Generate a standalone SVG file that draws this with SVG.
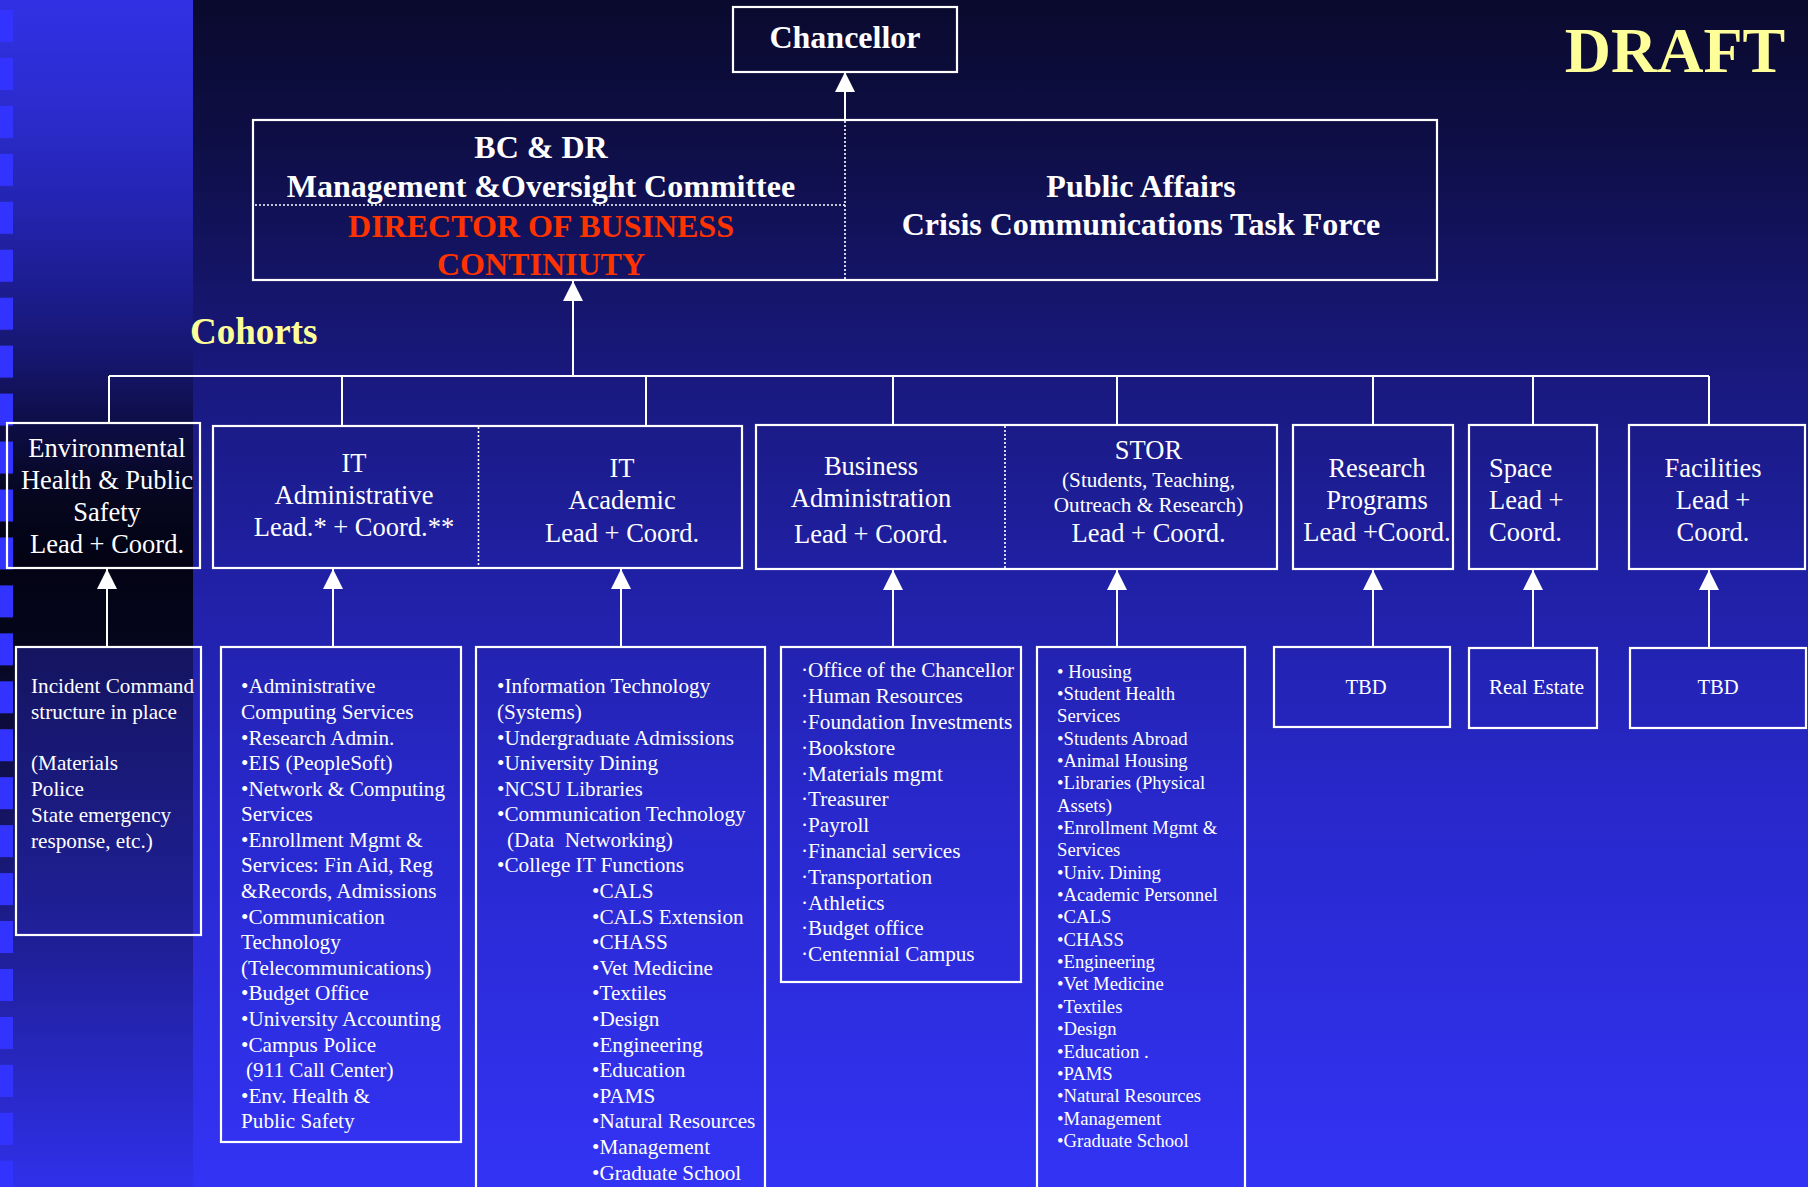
<svg xmlns="http://www.w3.org/2000/svg" width="1808" height="1187" viewBox="0 0 1808 1187">
<defs>
<linearGradient id="bg" x1="0" y1="0" x2="0" y2="1187" gradientUnits="userSpaceOnUse">
<stop offset="0" stop-color="#0a0a2e"/>
<stop offset="0.12" stop-color="#0e0e46"/>
<stop offset="0.3" stop-color="#18187a"/>
<stop offset="0.48" stop-color="#2020a4"/>
<stop offset="0.68" stop-color="#2828cc"/>
<stop offset="1" stop-color="#3333f5"/>
</linearGradient>
<linearGradient id="panel" x1="0" y1="0" x2="0" y2="1187" gradientUnits="userSpaceOnUse">
<stop offset="0" stop-color="#3131e4"/>
<stop offset="0.085" stop-color="#2c2cd0"/>
<stop offset="0.17" stop-color="#2424b2"/>
<stop offset="0.25" stop-color="#1c1c8c"/>
<stop offset="0.30" stop-color="#161670"/>
<stop offset="0.36" stop-color="#0d0d44"/>
<stop offset="0.42" stop-color="#06061f"/>
<stop offset="0.47" stop-color="#030314"/>
<stop offset="0.545" stop-color="#06061c"/>
<stop offset="0.79" stop-color="#1e1e94"/>
<stop offset="1" stop-color="#3030ea"/>
</linearGradient>
<linearGradient id="incfill" x1="0" y1="647" x2="0" y2="935" gradientUnits="userSpaceOnUse">
<stop offset="0" stop-color="#141460"/>
<stop offset="1" stop-color="#20209a"/>
</linearGradient>
<pattern id="sq" patternUnits="userSpaceOnUse" x="0" y="10" width="13" height="47.95">
<rect x="0" y="0" width="13" height="32" fill="#3333ff"/>
</pattern>
<marker id="arr" markerUnits="userSpaceOnUse" markerWidth="20" markerHeight="20" viewBox="0 0 20 20" refX="20" refY="10" orient="auto">
<path d="M0,0 L20,10 L0,20 z" fill="#ffffff"/>
</marker>
<style>
.box{fill:none;stroke:#ffffff;stroke-width:2.2}
.dot{fill:none;stroke:#ffffff;stroke-width:1.6;stroke-dasharray:2 2}
.con{fill:none;stroke:#ffffff;stroke-width:2}
.arrow{marker-end:url(#arr)}
text{font-family:"Liberation Serif","Times New Roman",serif;fill:#ffffff}
.b{font-weight:bold;font-size:32px}
.red{fill:#ff3300}
.yel{fill:#ffff99}
.n{font-size:26.5px}
.m{font-size:21.2px}
.s{font-size:18.7px}
.c{text-anchor:middle}
</style>
</defs>

<rect x="0" y="0" width="1808" height="1187" fill="url(#bg)"/>
<rect x="0" y="0" width="193" height="1187" fill="url(#panel)"/>
<rect x="17" y="648" width="176" height="286" fill="url(#incfill)"/>
<rect x="0" y="0" width="13" height="1187" fill="url(#sq)"/>

<text class="b yel" x="1675" y="72" style="font-size:64px" text-anchor="middle">DRAFT</text>
<text class="b yel" x="190" y="344" style="font-size:37px">Cohorts</text>

<g id="connectors">
<line class="con arrow" x1="845" y1="120" x2="845" y2="72"/>
<line class="con arrow" x1="573" y1="376" x2="573" y2="281"/>
<line class="con" x1="109" y1="376" x2="1709" y2="376"/>
<line class="con" x1="109" y1="376" x2="109" y2="423"/>
<line class="con" x1="342" y1="376" x2="342" y2="426"/>
<line class="con" x1="646" y1="376" x2="646" y2="426"/>
<line class="con" x1="893" y1="376" x2="893" y2="425"/>
<line class="con" x1="1117" y1="376" x2="1117" y2="425"/>
<line class="con" x1="1373" y1="376" x2="1373" y2="425"/>
<line class="con" x1="1533" y1="376" x2="1533" y2="425"/>
<line class="con" x1="1709" y1="376" x2="1709" y2="425"/>
<line class="con arrow" x1="107" y1="647" x2="107" y2="569"/>
<line class="con arrow" x1="333" y1="647" x2="333" y2="569"/>
<line class="con arrow" x1="621" y1="647" x2="621" y2="569"/>
<line class="con arrow" x1="893" y1="647" x2="893" y2="570"/>
<line class="con arrow" x1="1117" y1="647" x2="1117" y2="570"/>
<line class="con arrow" x1="1373" y1="648" x2="1373" y2="570"/>
<line class="con arrow" x1="1533" y1="648" x2="1533" y2="570"/>
<line class="con arrow" x1="1709" y1="648" x2="1709" y2="570"/>
</g>

<g id="chancellor">
<rect class="box" x="733" y="7" width="224" height="65"/>
<text class="b c" x="845" y="48">Chancellor</text>
</g>

<g id="bcdr-committee">
<rect class="box" x="253" y="120" width="1184" height="160"/>
<line class="dot" x1="845" y1="121" x2="845" y2="279"/>
<line class="dot" x1="255" y1="205" x2="845" y2="205"/>
<text class="b c" x="541" y="158">BC &amp; DR</text>
<text class="b c" x="541" y="197">Management &amp;Oversight Committee</text>
<text class="b c red" x="541" y="237">DIRECTOR OF BUSINESS</text>
<text class="b c red" x="541" y="275">CONTINIUTY</text>
<text class="b c" x="1141" y="197">Public Affairs</text>
<text class="b c" x="1141" y="235">Crisis Communications Task Force</text>
</g>

<g id="env-health">
<rect class="box" x="7" y="423" width="193" height="145"/>
<text class="n c" x="107" y="457">Environmental</text>
<text class="n c" x="107" y="489">Health &amp; Public</text>
<text class="n c" x="107" y="521">Safety</text>
<text class="n c" x="107" y="553">Lead + Coord.</text>
</g>

<g id="it">
<rect class="box" x="213" y="426" width="529" height="142"/>
<line class="dot" x1="478.5" y1="427" x2="478.5" y2="567"/>
<text class="n c" x="354" y="472">IT</text>
<text class="n c" x="354" y="504">Administrative</text>
<text class="n c" x="354" y="536">Lead.* + Coord.**</text>
<text class="n c" x="622" y="477">IT</text>
<text class="n c" x="622" y="509">Academic</text>
<text class="n c" x="622" y="542">Lead + Coord.</text>
</g>

<g id="business-stor">
<rect class="box" x="756" y="425" width="521" height="144"/>
<line class="dot" x1="1005" y1="426" x2="1005" y2="568"/>
<text class="n c" x="871" y="475">Business</text>
<text class="n c" x="871" y="507">Administration</text>
<text class="n c" x="871" y="543">Lead + Coord.</text>
<text class="n c" x="1148.5" y="459">STOR</text>
<text class="m c" x="1148.5" y="487">(Students, Teaching,</text>
<text class="m c" x="1148.5" y="512">Outreach &amp; Research)</text>
<text class="n c" x="1148.5" y="542">Lead + Coord.</text>
</g>

<g id="research">
<rect class="box" x="1293" y="425" width="160" height="144"/>
<text class="n c" x="1377" y="477">Research</text>
<text class="n c" x="1377" y="509">Programs</text>
<text class="n c" x="1377" y="541">Lead +Coord.</text>
</g>

<g id="space">
<rect class="box" x="1469" y="425" width="128" height="144"/>
<text class="n" x="1489" y="477">Space</text>
<text class="n" x="1489" y="509">Lead +</text>
<text class="n" x="1489" y="541">Coord.</text>
</g>

<g id="facilities">
<rect class="box" x="1629" y="425" width="176" height="144"/>
<text class="n c" x="1713" y="477">Facilities</text>
<text class="n c" x="1713" y="509">Lead +</text>
<text class="n c" x="1713" y="541">Coord.</text>
</g>

<g id="incident">
<rect class="box" x="16" y="647" width="185" height="288"/>
<text class="m" x="31" y="693">Incident Command</text>
<text class="m" x="31" y="719">structure in place</text>
<text class="m" x="31" y="770">(Materials</text>
<text class="m" x="31" y="796">Police</text>
<text class="m" x="31" y="822">State emergency</text>
<text class="m" x="31" y="848">response, etc.)</text>
</g>

<g id="it-admin-list">
<rect class="box" x="221" y="647" width="240" height="495"/>
<text class="m" x="241" y="693.3">•Administrative</text>
<text class="m" x="241" y="718.9">Computing Services</text>
<text class="m" x="241" y="744.5">•Research Admin.</text>
<text class="m" x="241" y="770.1">•EIS (PeopleSoft)</text>
<text class="m" x="241" y="795.7">•Network &amp; Computing</text>
<text class="m" x="241" y="821.3">Services</text>
<text class="m" x="241" y="846.8">•Enrollment Mgmt &amp;</text>
<text class="m" x="241" y="872.4">Services: Fin Aid, Reg</text>
<text class="m" x="241" y="898.0">&amp;Records, Admissions</text>
<text class="m" x="241" y="923.6">•Communication</text>
<text class="m" x="241" y="949.2">Technology</text>
<text class="m" x="241" y="974.8">(Telecommunications)</text>
<text class="m" x="241" y="1000.4">•Budget Office</text>
<text class="m" x="241" y="1026.0">•University Accounting</text>
<text class="m" x="241" y="1051.6">•Campus Police</text>
<text class="m" x="246" y="1077.2">(911 Call Center)</text>
<text class="m" x="241" y="1102.7">•Env. Health &amp;</text>
<text class="m" x="241" y="1128.3">Public Safety</text>
</g>

<g id="it-academic-list">
<rect class="box" x="476" y="647" width="289" height="570"/>
<text class="m" x="497" y="693.3">•Information Technology</text>
<text class="m" x="497" y="718.9">(Systems)</text>
<text class="m" x="497" y="744.5">•Undergraduate Admissions</text>
<text class="m" x="497" y="770.1">•University Dining</text>
<text class="m" x="497" y="795.7">•NCSU Libraries</text>
<text class="m" x="497" y="821.3">•Communication Technology</text>
<text class="m" x="507" y="846.8" xml:space="preserve">(Data  Networking)</text>
<text class="m" x="497" y="872.4">•College IT Functions</text>
<text class="m" x="592" y="898.0">•CALS</text>
<text class="m" x="592" y="923.6">•CALS Extension</text>
<text class="m" x="592" y="949.2">•CHASS</text>
<text class="m" x="592" y="974.8">•Vet Medicine</text>
<text class="m" x="592" y="1000.4">•Textiles</text>
<text class="m" x="592" y="1026.0">•Design</text>
<text class="m" x="592" y="1051.6">•Engineering</text>
<text class="m" x="592" y="1077.2">•Education</text>
<text class="m" x="592" y="1102.7">•PAMS</text>
<text class="m" x="592" y="1128.3">•Natural Resources</text>
<text class="m" x="592" y="1153.9">•Management</text>
<text class="m" x="592" y="1179.5">•Graduate School</text>
</g>

<g id="business-list">
<rect class="box" x="781" y="647" width="240" height="335"/>
<text class="m" x="801" y="677.3">·Office of the Chancellor</text>
<text class="m" x="801" y="703.1">·Human Resources</text>
<text class="m" x="801" y="728.9">·Foundation Investments</text>
<text class="m" x="801" y="754.7">·Bookstore</text>
<text class="m" x="801" y="780.5">·Materials mgmt</text>
<text class="m" x="801" y="806.3">·Treasurer</text>
<text class="m" x="801" y="832.1">·Payroll</text>
<text class="m" x="801" y="857.9">·Financial services</text>
<text class="m" x="801" y="883.7">·Transportation</text>
<text class="m" x="801" y="909.5">·Athletics</text>
<text class="m" x="801" y="935.3">·Budget office</text>
<text class="m" x="801" y="961.1">·Centennial Campus</text>
</g>

<g id="stor-list">
<rect class="box" x="1037" y="647" width="208" height="570"/>
<text class="s" x="1057" y="677.5">• Housing</text>
<text class="s" x="1057" y="699.9">•Student Health</text>
<text class="s" x="1057" y="722.2">Services</text>
<text class="s" x="1057" y="744.6">•Students Abroad</text>
<text class="s" x="1057" y="766.9">•Animal Housing</text>
<text class="s" x="1057" y="789.3">•Libraries (Physical</text>
<text class="s" x="1057" y="811.6">Assets)</text>
<text class="s" x="1057" y="834.0">•Enrollment Mgmt &amp;</text>
<text class="s" x="1057" y="856.3">Services</text>
<text class="s" x="1057" y="878.7">•Univ. Dining</text>
<text class="s" x="1057" y="901.0">•Academic Personnel</text>
<text class="s" x="1057" y="923.4">•CALS</text>
<text class="s" x="1057" y="945.7">•CHASS</text>
<text class="s" x="1057" y="968.1">•Engineering</text>
<text class="s" x="1057" y="990.4">•Vet Medicine</text>
<text class="s" x="1057" y="1012.8">•Textiles</text>
<text class="s" x="1057" y="1035.1">•Design</text>
<text class="s" x="1057" y="1057.5">•Education .</text>
<text class="s" x="1057" y="1079.8">•PAMS</text>
<text class="s" x="1057" y="1102.2">•Natural Resources</text>
<text class="s" x="1057" y="1124.5">•Management</text>
<text class="s" x="1057" y="1146.9">•Graduate School</text>
</g>

<g id="research-tbd">
<rect class="box" x="1274" y="647" width="176" height="80"/>
<text class="c" x="1366" y="694" style="font-size:20.6px">TBD</text>
</g>

<g id="real-estate">
<rect class="box" x="1469" y="648" width="128" height="80"/>
<text x="1489" y="694" style="font-size:21px">Real Estate</text>
</g>

<g id="facilities-tbd">
<rect class="box" x="1630" y="648" width="176" height="80"/>
<text class="c" x="1718" y="694" style="font-size:20.6px">TBD</text>
</g>
</svg>
